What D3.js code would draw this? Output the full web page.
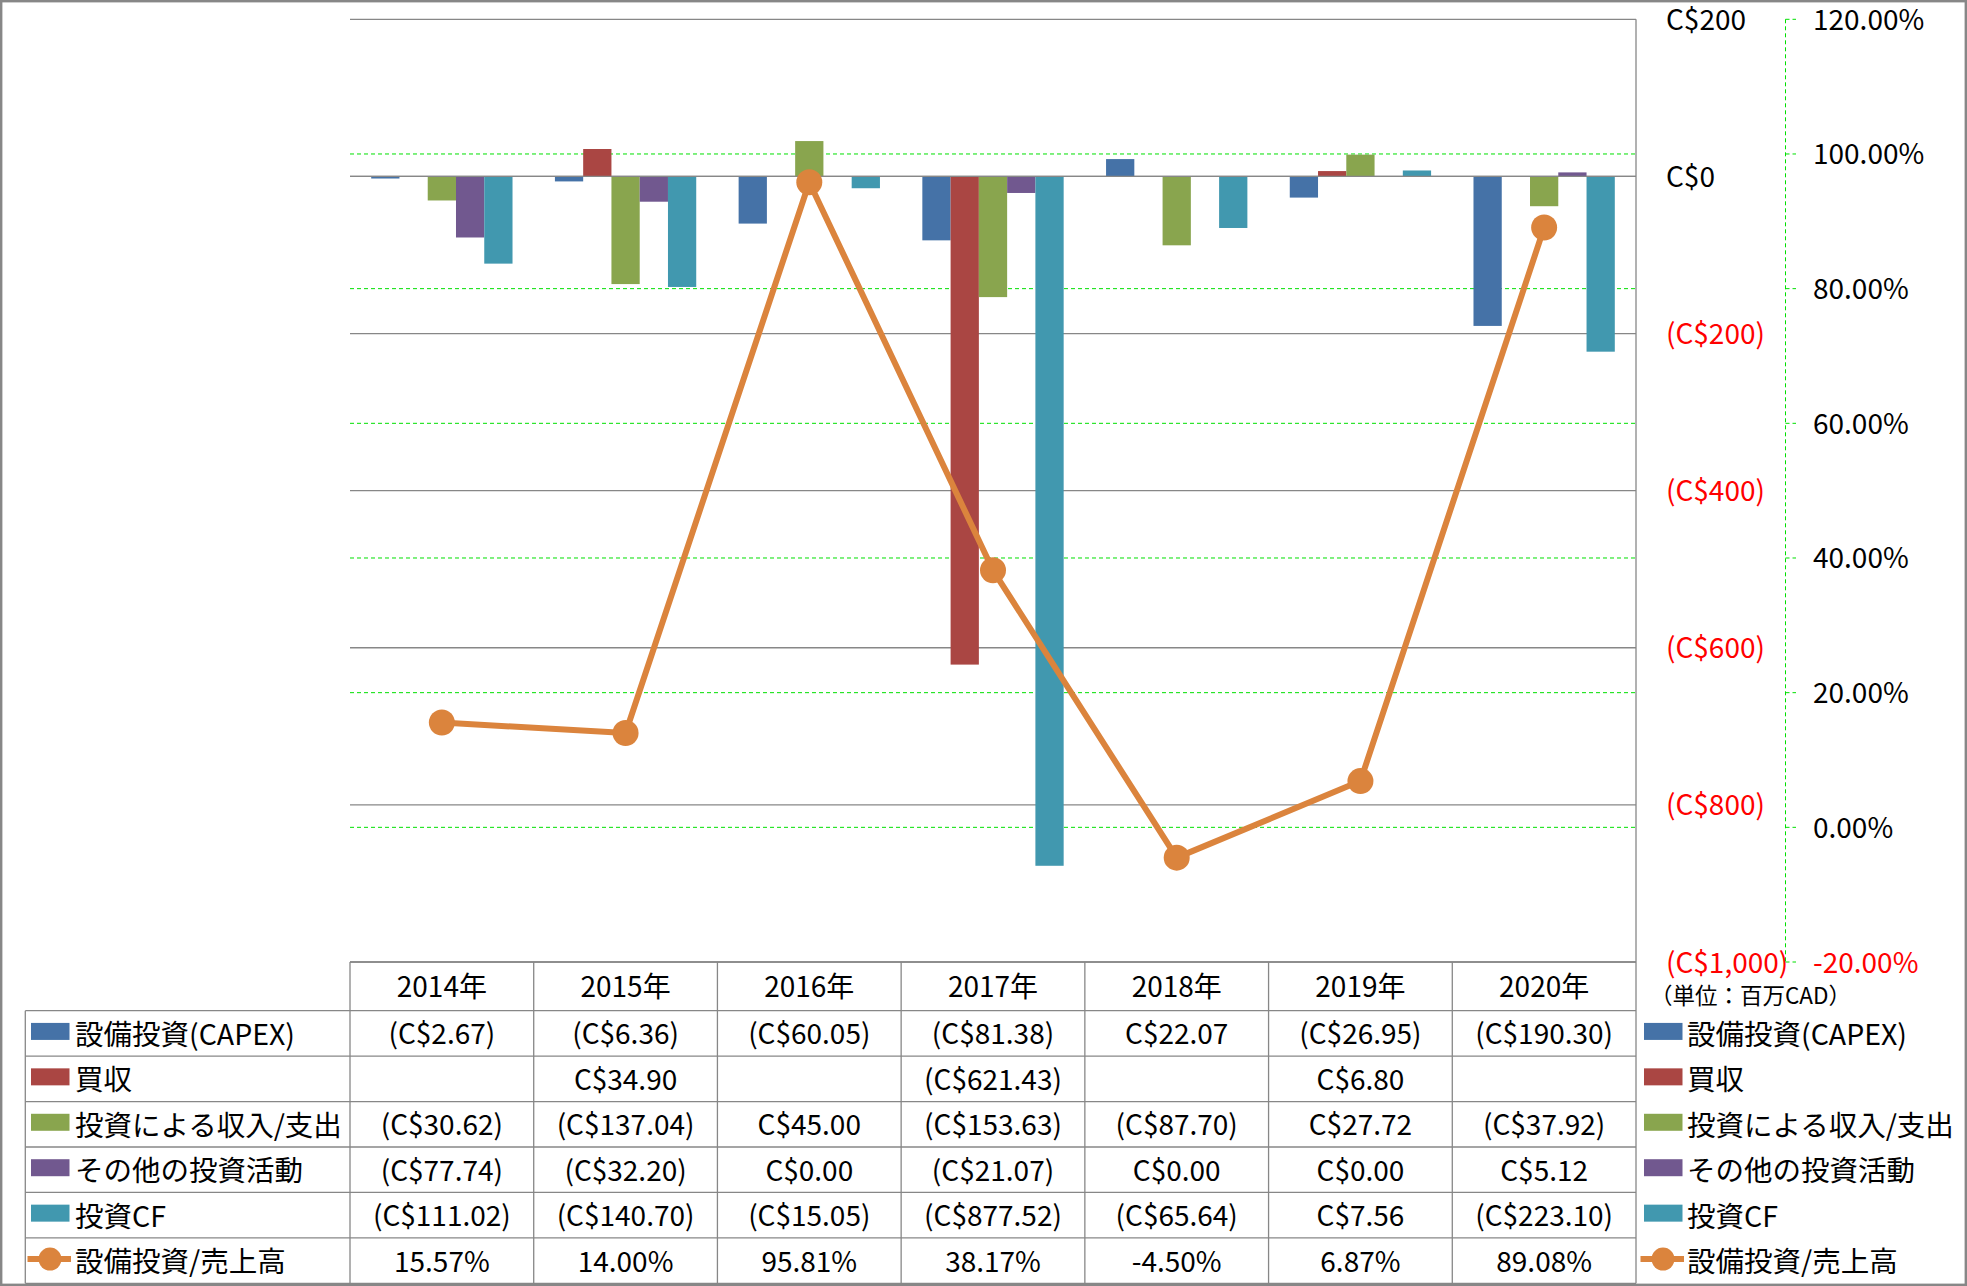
<!DOCTYPE html>
<html><head><meta charset="utf-8">
<script src="https://cdn.jsdelivr.net/npm/d3@7"></script>
<style>
html,body{margin:0;padding:0;background:#fff;}
svg{display:block;}
text{font-family:"Noto Sans CJK JP","Noto Sans",sans-serif;}
</style></head>
<body><svg id="chart" width="1967" height="1286"></svg>
<script>
// ---- data ----
const years = ["2014年","2015年","2016年","2017年","2018年","2019年","2020年"];
const seriesNames = ["設備投資(CAPEX)","買収","投資による収入/支出","その他の投資活動","投資CF"];
const lineName = "設備投資/売上高";
const capex        = [-2.67, -6.36, -60.05, -81.38, 22.07, -26.95, -190.30];
const acquisition  = [null, 34.90, null, -621.43, null, 6.80, null];
const investIncome = [-30.62, -137.04, 45.00, -153.63, -87.70, 27.72, -37.92];
const otherInvest  = [-77.74, -32.20, 0.00, -21.07, 0.00, 0.00, 5.12];
const investCF     = [-111.02, -140.70, -15.05, -877.52, -65.64, 7.56, -223.10];
const capexRatio   = [15.57, 14.00, 95.81, 38.17, -4.50, 6.87, 89.08];
const leftTicks  = [200, 0, -200, -400, -600, -800, -1000];
const rightTicks = [120, 100, 80, 60, 40, 20, 0, -20];
const unitLabel = "（単位：百万CAD）";
const colors = ["#4572A7","#AA4643","#89A54E","#71588F","#4198AF"];
const lineColor = "#DB843D";

const seriesData = [capex, acquisition, investIncome, otherInvest, investCF];

// ---- layout ----
const W = 1967, H = 1286;
const plotL = 350, plotR = 1636, plotT = 19.3, plotB = 962;
const svg = d3.select("#chart");
const gridCol = "#878787";
const FS = 28, LFS = 28.5;
const loc = d3.formatLocale({decimal:".", thousands:",", grouping:[3], currency:["",""], minus:"-"});
const f2 = loc.format(".2f"), fc = loc.format(","), fc2 = loc.format(",.2f");

const x = d3.scaleBand().domain(years).range([plotL, plotR]);
const xs = d3.scaleBand().domain(seriesNames).range([0, x.bandwidth()]).paddingInner(0).paddingOuter(0.75);
const yL = d3.scaleLinear().domain([-1000, 200]).range([plotB, plotT]);
const yR = d3.scaleLinear().domain([-20, 120]).range([plotB, plotT]);

// outer border
svg.append("rect").attr("x",1.2).attr("y",1.2).attr("width",W-2.4).attr("height",H-2.4)
  .attr("fill","none").attr("stroke","#878787").attr("stroke-width",2.4);

// green dashed gridlines (secondary axis)
svg.append("g").selectAll("line").data(rightTicks.filter(t=>t!==120 && t!==-20)).join("line")
  .attr("x1",plotL).attr("x2",plotR).attr("y1",d=>yR(d)).attr("y2",d=>yR(d))
  .attr("stroke","#00E000").attr("stroke-width",1).attr("stroke-dasharray","4,3");

// grey gridlines (primary)
svg.append("g").selectAll("line").data(leftTicks).join("line")
  .attr("x1",plotL).attr("x2",plotR).attr("y1",d=>yL(d)).attr("y2",d=>yL(d))
  .attr("stroke",gridCol).attr("stroke-width",1.3);
svg.append("line").attr("x1",plotR).attr("x2",plotR).attr("y1",plotT).attr("y2",plotB)
  .attr("stroke",gridCol).attr("stroke-width",1.3);

// bars
const gBars = svg.append("g");
seriesData.forEach((arr, si) => {
  gBars.append("g").selectAll("rect")
    .data(arr.map((v,i)=>({v, year: years[i]})).filter(d=>d.v!==null && d.v!==0))
    .join("rect")
    .attr("x", d => x(d.year) + xs(seriesNames[si]))
    .attr("width", xs.bandwidth())
    .attr("y", d => Math.min(yL(d.v), yL(0)))
    .attr("height", d => Math.abs(yL(d.v) - yL(0)))
    .attr("fill", colors[si]);
});
svg.append("line").attr("x1",plotL).attr("x2",plotR).attr("y1",yL(0)).attr("y2",yL(0))
  .attr("stroke",gridCol).attr("stroke-width",1.3);

// line series
const lineGen = d3.line().x((d,i)=>x(years[i]) + x.bandwidth()/2).y(d=>yR(d));
svg.append("path").datum(capexRatio).attr("d", lineGen)
  .attr("fill","none").attr("stroke",lineColor).attr("stroke-width",6).attr("stroke-linejoin","round");
svg.append("g").selectAll("circle").data(capexRatio).join("circle")
  .attr("cx",(d,i)=>x(years[i]) + x.bandwidth()/2).attr("cy",d=>yR(d)).attr("r",13)
  .attr("fill",lineColor);

// primary axis labels
const fmtMoney0 = v => v < 0 ? "(C$" + fc(-v) + ")" : "C$" + fc(v);
svg.append("g").selectAll("text").data(leftTicks).join("text")
  .attr("x",1666).attr("y",d=>yL(d)-1.5).attr("dominant-baseline","central")
  .attr("font-size",FS).attr("fill",d=>d<0?"#FF0000":"#000")
  .text(fmtMoney0);

// secondary axis
const axR = svg.append("g");
axR.append("line").attr("x1",1785.5).attr("x2",1785.5).attr("y1",plotT).attr("y2",plotB)
  .attr("stroke","#00E000").attr("stroke-width",1).attr("stroke-dasharray","4,3");
axR.selectAll("line.tk").data(rightTicks).join("line").attr("class","tk")
  .attr("x1",1785.5).attr("x2",1796).attr("y1",d=>yR(d)).attr("y2",d=>yR(d))
  .attr("stroke","#00E000").attr("stroke-width",1).attr("stroke-dasharray","4,3");
axR.selectAll("text").data(rightTicks).join("text")
  .attr("x",1813).attr("y",d=>yR(d)-1.5).attr("dominant-baseline","central")
  .attr("font-size",FS).attr("fill",d=>d<0?"#FF0000":"#000")
  .text(d=>f2(d)+"%");

// unit label
svg.append("text").attr("x",1650).attr("y",994).attr("dominant-baseline","central")
  .attr("font-size",22.5).attr("fill","#000").text(unitLabel);

// ---- data table ----
const tblL = 25.3, headT = 962, headB = 1010.7, tblB = 1283.3;
const rowH = (tblB - headB) / 6;
const gT = svg.append("g");
gT.append("line").attr("x1",plotL).attr("x2",plotR).attr("y1",headT).attr("y2",headT).attr("stroke",gridCol).attr("stroke-width",1.3);
d3.range(7).forEach(i=>{
  const yy = headB + i*rowH;
  gT.append("line").attr("x1",tblL).attr("x2",plotR).attr("y1",yy).attr("y2",yy).attr("stroke",gridCol).attr("stroke-width",1.3);
});
gT.append("line").attr("x1",tblL).attr("x2",tblL).attr("y1",headB).attr("y2",tblB).attr("stroke",gridCol).attr("stroke-width",1.3);
years.forEach(yr=>{
  gT.append("line").attr("x1",x(yr)).attr("x2",x(yr)).attr("y1",headT).attr("y2",tblB).attr("stroke",gridCol).attr("stroke-width",1.3);
});
gT.append("line").attr("x1",plotR).attr("x2",plotR).attr("y1",headT).attr("y2",tblB).attr("stroke",gridCol).attr("stroke-width",1.3);

gT.selectAll("text.hd").data(years).join("text").attr("class","hd")
  .attr("x",d=>x(d)+x.bandwidth()/2).attr("y",(headT+headB)/2-1).attr("text-anchor","middle")
  .attr("dominant-baseline","central").attr("font-size",FS).text(d=>d);

const fmtCell = v => v===null ? "" : (v < 0 ? "(C$" + fc2(-v) + ")" : "C$" + fc2(v));
const rowCenter = r => headB + (r+0.5)*rowH;
seriesData.forEach((arr, si)=>{
  gT.append("g").selectAll("text").data(arr).join("text")
    .attr("x",(d,i)=>x(years[i])+x.bandwidth()/2).attr("y",rowCenter(si)-1)
    .attr("text-anchor","middle").attr("dominant-baseline","central").attr("font-size",FS)
    .text(fmtCell);
});
gT.append("g").selectAll("text").data(capexRatio).join("text")
  .attr("x",(d,i)=>x(years[i])+x.bandwidth()/2).attr("y",rowCenter(5)-1)
  .attr("text-anchor","middle").attr("dominant-baseline","central").attr("font-size",FS)
  .text(d=>f2(d)+"%");

// legends
function legend(x0, textX){
  const g = svg.append("g");
  seriesNames.forEach((nm, si)=>{
    const cy = rowCenter(si);
    g.append("rect").attr("x",x0).attr("y",cy-10.5).attr("width",38.5).attr("height",17).attr("fill",colors[si]);
    g.append("text").attr("x",textX).attr("y",cy-1).attr("dominant-baseline","central").attr("font-size",LFS).text(nm);
  });
  const cy = rowCenter(5) - 1.5;
  g.append("line").attr("x1",x0-3.5).attr("x2",x0+40).attr("y1",cy).attr("y2",cy).attr("stroke",lineColor).attr("stroke-width",6);
  g.append("circle").attr("cx",x0+19).attr("cy",cy).attr("r",11.5).attr("fill",lineColor);
  g.append("text").attr("x",textX).attr("y",rowCenter(5)-1).attr("dominant-baseline","central").attr("font-size",LFS).text(lineName);
}
legend(31, 75);
legend(1644, 1687);
</script>
</body></html>
